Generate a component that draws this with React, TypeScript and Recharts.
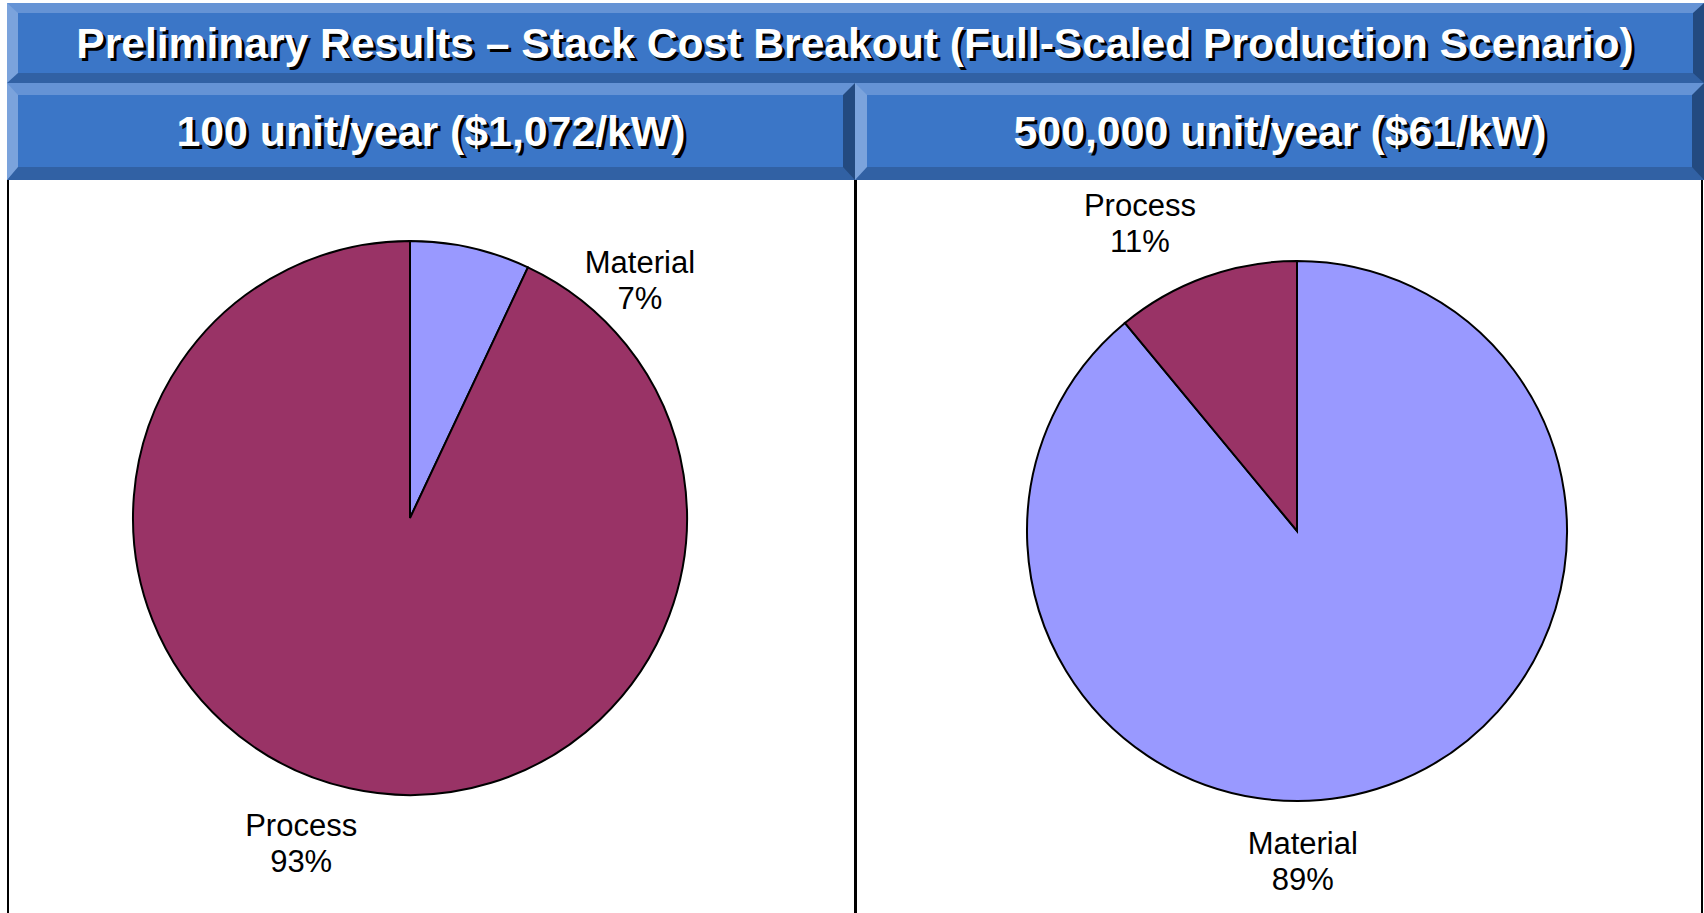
import React from 'react';
import { PieChart, Pie, Cell } from 'recharts';

const title = 'Preliminary Results – Stack Cost Breakout (Full-Scaled Production Scenario)';
const panelTitles = ['100 unit/year ($1,072/kW)', '500,000 unit/year ($61/kW)'];

const categories = ['Material', 'Process'];
const lowVolumeShares = [7, 93];
const highVolumeShares = [89, 11];

const colors: Record<string, string> = { Material: '#9999FF', Process: '#993366' };

// where each label sits around its pie: angle (deg, ccw from 3 o'clock) and distance from centre
const lowLabelPlacement = [
  { angle: 46, dist: 331 },
  { angle: -108.5, dist: 343 },
];
const highLabelPlacement = [
  { angle: -89, dist: 330 },
  { angle: 117, dist: 346 },
];

const lowData = categories.map((name, i) => ({ name, value: lowVolumeShares[i] }));
const highData = categories.map((name, i) => ({ name, value: highVolumeShares[i] }));

const FONT = '"Liberation Sans", Arial, Helvetica, sans-serif';

const makeLabel = (placement: { angle: number; dist: number }[]) => (props: any) => {
  const { cx, cy, index, name, value } = props;
  const p = placement[index];
  const rad = (p.angle * Math.PI) / 180;
  const x = cx + p.dist * Math.cos(rad);
  const y = cy - p.dist * Math.sin(rad);
  return (
    <text
      x={x}
      y={y}
      textAnchor="middle"
      fontFamily={FONT}
      fontSize={31}
      fill="#000"
    >
      <tspan x={x} dy={-7}>{name}</tspan>
      <tspan x={x} dy={36}>{`${value}%`}</tspan>
    </text>
  );
};

function Bevel({ left, top, width, height, bw }: any) {
  return (
    <div
      style={{
        position: 'absolute',
        left,
        top,
        width,
        height,
        boxSizing: 'border-box',
        background: '#3B76C7',
        borderStyle: 'solid',
        borderWidth: `${bw[0]}px ${bw[1]}px ${bw[2]}px ${bw[3]}px`,
        borderTopColor: '#6593D5',
        borderLeftColor: '#7BA3DC',
        borderBottomColor: '#3161A4',
        borderRightColor: '#234A80',
      }}
    />
  );
}

function ShadowText({ x, y, text, size }: { x: number; y: number; text: string; size: number }) {
  return (
    <g fontFamily={FONT} fontWeight="bold" fontSize={size} textAnchor="middle">
      <text x={x + 3} y={y + 3} fill="#000">{text}</text>
      <text x={x} y={y} fill="#fff">{text}</text>
    </g>
  );
}

export default function App() {
  return (
    <div
      style={{
        position: 'absolute',
        left: 0,
        top: 0,
        width: 1704,
        height: 913,
        background: '#fff',
        overflow: 'hidden',
      }}
    >
      {/* panel borders */}
      <div style={{ position: 'absolute', left: 7, top: 180, width: 2, height: 740, background: '#000' }} />
      <div style={{ position: 'absolute', left: 854, top: 180, width: 3, height: 740, background: '#000' }} />
      <div style={{ position: 'absolute', left: 1701, top: 180, width: 2, height: 740, background: '#000' }} />

      <div style={{ position: 'absolute', left: 0, top: 0 }}>
        <PieChart width={1704} height={913} margin={{ top: 0, right: 0, bottom: 0, left: 0 }}>
          <Pie
            data={lowData}
            dataKey="value"
            nameKey="name"
            cx={410}
            cy={518}
            outerRadius={277}
            startAngle={90}
            endAngle={-270}
            stroke="#000"
            strokeWidth={2}
            label={makeLabel(lowLabelPlacement)}
            labelLine={false}
            isAnimationActive={false}
          >
            {lowData.map((d) => (
              <Cell key={d.name} fill={colors[d.name]} />
            ))}
          </Pie>
          <Pie
            data={highData}
            dataKey="value"
            nameKey="name"
            cx={1297}
            cy={531}
            outerRadius={270}
            startAngle={90}
            endAngle={-270}
            stroke="#000"
            strokeWidth={2}
            label={makeLabel(highLabelPlacement)}
            labelLine={false}
            isAnimationActive={false}
          >
            {highData.map((d) => (
              <Cell key={d.name} fill={colors[d.name]} />
            ))}
          </Pie>
        </PieChart>
      </div>

      {/* header bars */}
      <Bevel left={7} top={3} width={1697} height={80} bw={[10, 11, 10, 11]} />
      <Bevel left={7} top={83} width={848} height={97} bw={[12, 12, 13, 11]} />
      <Bevel left={855} top={83} width={849} height={97} bw={[12, 12, 13, 12]} />
      <svg
        width={1704}
        height={190}
        style={{ position: 'absolute', left: 0, top: 0, pointerEvents: 'none' }}
      >
        <ShadowText x={855} y={58} text={title} size={42.6} />
        <ShadowText x={431} y={146} text={panelTitles[0]} size={42.8} />
        <ShadowText x={1280} y={146} text={panelTitles[1]} size={42.8} />
      </svg>
    </div>
  );
}
